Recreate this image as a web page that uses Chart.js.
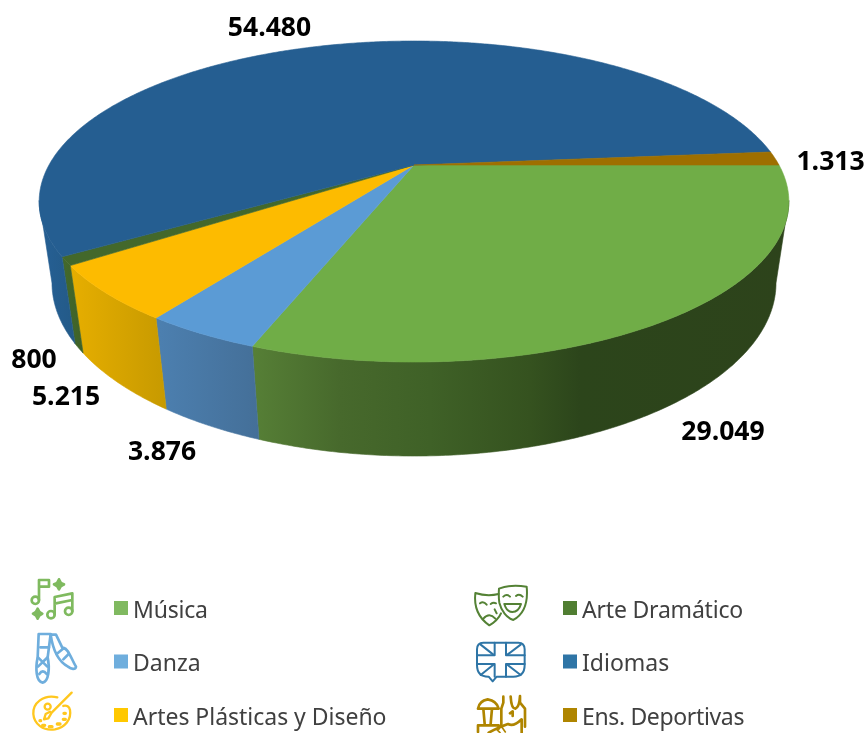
<!DOCTYPE html>
<html lang="es">
<head>
<meta charset="utf-8">
<title>Pie</title>
<script src="https://cdn.jsdelivr.net/npm/chart.js@4"></script>
<style>
html,body{margin:0;padding:0;background:#fff;overflow:hidden}
#wrap{position:relative;width:865px;height:733px;overflow:hidden}
canvas{display:block;position:absolute;left:0;top:0}
svg{position:absolute;left:0;top:0;pointer-events:none}
</style>
</head>
<body>
<div id="wrap">
<canvas id="c" width="865" height="733"></canvas>
<svg width="865" height="733" viewBox="0 0 865 733" fill="none" stroke-linejoin="round" stroke-linecap="round">
  <!-- Música -->
  <g transform="translate(0,570) scale(.3333)" stroke="#7FBA5F" stroke-width="8">
    <circle cx="106" cy="91" r="11"/><path d="M117 90V30H147V50H117"/>
    <circle cx="153" cy="134" r="11"/><circle cx="206" cy="124" r="11"/>
    <path d="M164 133V81L217 70V124M164 101L217 90"/>
    <path d="M177 28Q180 40 192 43Q180 46 177 58Q174 46 162 43Q174 40 177 28Z" fill="#7FBA5F"/>
    <path d="M113 116Q116 127 127 131Q116 134 113 146Q110 134 99 131Q110 127 113 116Z" fill="#7FBA5F"/>
  </g>
  <!-- Danza -->
  <g transform="translate(0,570) scale(.3333)" stroke="#6FAEDD" stroke-width="8">
    <path d="M116 192H152L143 262C150 295 146 335 128 338C108 335 106 295 113 262Z"/>
    <path d="M114 262L142 290M143 262L114 290M121 232H147M118 312Q128 296 140 312"/>
    <path d="M152 194L168 194L188 235C204 230 214 268 228 290C226 300 214 298 204 290C178 276 160 250 152 194Z"/>
    <path d="M170 252L192 234M190 268L206 252"/>
  </g>
  <!-- Artes -->
  <g transform="translate(0,570) scale(.3333)" stroke="#FFC71E" stroke-width="7">
    <path d="M172 382C130 372 98 400 100 432C102 462 130 484 165 478C195 472 215 448 210 420C208 410 200 405 190 408"/>
    <circle cx="143" cy="410" r="9"/>
    <path d="M215 368L155 428L145 445L132 448L137 432L150 425"/>
    <path d="M120 452h2M128 466h6M148 470h8M172 462h8M190 448h6M192 430h4" stroke-width="10"/>
  </g>
  <!-- Arte Dramático -->
  <g transform="translate(450,570) scale(.3333)" stroke="#548235" stroke-width="6">
    <path d="M146 72C120 78 98 76 76 69C72 105 80 140 118 166C132 158 145 148 153 130"/>
    <path d="M147 56C172 46 205 46 230 50C234 90 226 130 190 150C170 144 154 122 148 98C146 84 146 70 147 56Z"/>
    <path d="M160 80Q170 70 180 80M198 78Q208 70 218 80M163 102H213Q206 126 187 126Q170 126 163 102Z"/>
    <path d="M90 100Q100 92 110 104M122 102Q130 96 138 100M100 146Q118 126 136 146M134 118L140 130"/>
  </g>
  <!-- Idiomas -->
  <g transform="translate(450,570) scale(.3333)" stroke="#2E75A6" stroke-width="6">
    <path d="M100 218H205Q224 218 224 238V285Q224 320 190 320H140L128 334L116 320H115Q81 320 81 285V238Q81 218 100 218Z"/>
    <path d="M81 256H134V218M168 218V256H224M81 282H134V320M168 320V282H224"/>
    <path d="M92 224L130 254M212 224L172 254M92 315L130 284M212 315L172 284"/>
  </g>
  <!-- Ens. Deportivas -->
  <g transform="translate(450,570) scale(.3333)" stroke="#AF8500" stroke-width="8">
    <path d="M84 416Q88 392 113 388Q140 392 146 416ZM100 416L104 462M126 416L122 462M84 466H146M84 466V486M146 466V476"/>
    <path d="M160 380V398L154 416V470M225 470V416L210 398V378M182 380Q184 416 196 416Q208 412 210 378"/>
    <path d="M180 430l8-6v14M116 488Q150 470 174 462Q190 472 215 448V488"/>
    <path d="M140 478L150 488M156 472L166 486" stroke-width="5"/>
  </g>
</svg>
</div>
<script>
const categories = ['Música','Danza','Artes Plásticas y Diseño','Arte Dramático','Idiomas','Ens. Deportivas'];
const seriesValues = [29049,3876,5215,800,54480,1313];

const topColors = ['#70AD47','#5B9BD5','#FDBB00','#43682B','#255E91','#9E6F00'];
const swatchColors = ['#80B960','#6FAEDD','#FFC800','#507E32','#2E75A6','#AF8500'];
const wallStops = [
  [[254,'#567F36'],[340,'#47692C'],[430,'#3F6127'],[530,'#35521F'],[580,'#2C451B'],[790,'#2D431B']],
  [[160,'#4C7FAF'],[260,'#446F98']],
  [[72,'#E6AE00'],[165,'#C79A00']],
  [[65,'#43682B'],[82,'#3F6228']],
  [[50,'#255E91'],[80,'#235985']],
  [[770,'#6B4C00'],[790,'#6B4C00']]
];
const labelPlacement = [[723,440],[162,460],[66,405],[34,368],[269.5,36],[830.5,170]];
const legendPlacement = [[114,601],[114,654.5],[114,708],[563,601],[563,654.5],[563,708]];
const legendTracking = ['-0.2px','0px','-0.02px','-0.2px','0px','-0.35px'];

// perspective camera for the flat Chart.js pie angles
const cam = {cx:414, cy:165, R:365, H:152.2, k:0.2275, g:82.4, m:0.0336};
const project = (a, depth) => {
  const u = Math.cos(a), v = Math.sin(a), w = 1 - cam.k*v + cam.m*depth;
  return [cam.cx + cam.R*u/w, cam.cy + (cam.H*v + cam.g*depth)/w];
};
const fmt = n => String(n).replace(/\B(?=(\d{3})+$)/g,'.');
const STEP = Math.PI/360;
const arcPts = (a0,a1,depth) => {
  const pts=[], n=Math.max(1,Math.ceil((a1-a0)/STEP));
  for(let i=0;i<=n;i++) pts.push(project(a0+(a1-a0)*i/n,depth));
  return pts;
};
const trace = (ctx,pts)=>{ctx.beginPath();pts.forEach((p,i)=>i?ctx.lineTo(p[0],p[1]):ctx.moveTo(p[0],p[1]));ctx.closePath();};

const pie3d = {
  id:'pie3d',
  beforeDatasetDraw(chart,args){
    const ctx = chart.ctx, arcs = args.meta.data;
    const visA = 0.223, visB = Math.PI - 0.223; // part of the rim facing the camera
    ctx.save();
    // rim
    arcs.forEach((el,i)=>{
      const a0 = Math.max(el.startAngle,visA), a1 = Math.min(el.endAngle,visB);
      if(a1<=a0) return;
      const g = ctx.createLinearGradient(wallStops[i][0][0],0,wallStops[i][wallStops[i].length-1][0],0);
      const s0 = wallStops[i][0][0], s1 = wallStops[i][wallStops[i].length-1][0];
      wallStops[i].forEach(([x,c])=>g.addColorStop((x-s0)/(s1-s0),c));
      const pts = arcPts(a0,a1,0).concat(arcPts(a0,a1,1).reverse());
      trace(ctx,pts);
      ctx.fillStyle=g; ctx.fill();
      ctx.strokeStyle=g; ctx.lineWidth=.6; ctx.stroke();
    });
    // top face
    arcs.forEach((el,i)=>{
      const pts = [[cam.cx,cam.cy]].concat(arcPts(el.startAngle,el.endAngle,0));
      trace(ctx,pts);
      ctx.fillStyle=topColors[i]; ctx.fill();
      ctx.strokeStyle=topColors[i]; ctx.lineWidth=.6; ctx.stroke();
    });
    ctx.restore();
    return false;
  },
  afterDatasetsDraw(chart){
    const ctx = chart.ctx;
    ctx.save();
    ctx.textBaseline='alphabetic';
    ctx.textAlign='center';
    ctx.fillStyle='#000';
    ctx.font='bold 26.5px "Open Sans"';
    seriesValues.forEach((v,i)=>ctx.fillText(fmt(v),labelPlacement[i][0],labelPlacement[i][1]));
    ctx.textAlign='left';
    categories.forEach((c,i)=>{
      const [x,y]=legendPlacement[i];
      ctx.fillStyle=swatchColors[i];
      ctx.fillRect(x,y,14,14);
      ctx.fillStyle='#404040';
      ctx.font='23px "Noto Sans"';
      ctx.letterSpacing=legendTracking[i];
      ctx.fillText(c,x+19,y+16.7);
    });
    ctx.restore();
  }
};

new Chart(document.getElementById('c'),{
  type:'pie',
  data:{labels:categories,datasets:[{data:seriesValues,backgroundColor:topColors,borderWidth:0}]},
  options:{
    responsive:false,animation:false,rotation:90,
    events:[],
    plugins:{legend:{display:false},tooltip:{enabled:false}}
  },
  plugins:[pie3d]
});
</script>
</body>
</html>
